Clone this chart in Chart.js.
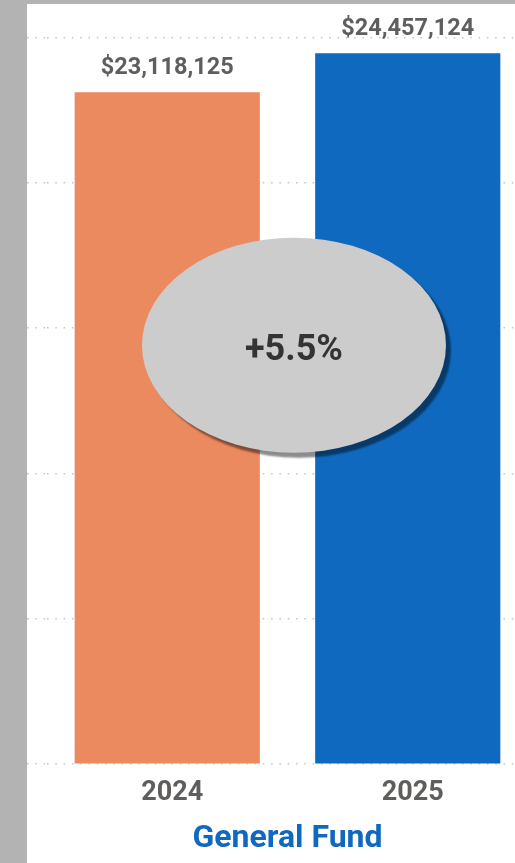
<!DOCTYPE html>
<html>
<head>
<meta charset="utf-8">
<script src="https://cdn.jsdelivr.net/npm/chart.js@4.4.1/dist/chart.umd.min.js"></script>
<style>
  html, body { margin: 0; padding: 0; width: 515px; height: 863px; overflow: hidden; background: #b3b3b3; }
  #panel { position: absolute; left: 27px; top: 4px; width: 488px; height: 859px; background: #ffffff; overflow: hidden; }
  #wrap { position: absolute; left: 0; top: 0; width: 501px; height: 859px; }
</style>
</head>
<body>
<div id="panel"><div id="wrap"><canvas id="chart"></canvas></div></div>
<script>
// chart data
const years = ["2024", "2025"];
const fundValues = [23118125, 24457124];
const barColors = ["#EB895F", "#0F6ABF"];
const changeLabel = "+5.5%";
const axisTitle = "General Fund";

const FONT = "Roboto, 'DejaVu Sans', sans-serif";
const labelGray = "#605E5C";
const dotColor = "#C4C4C4";
const dots = [1.5, 6.8];

// value labels above each bar
const valueLabels = {
  id: "valueLabels",
  afterDatasetsDraw(chart) {
    const ctx = chart.ctx;
    const meta = chart.getDatasetMeta(0);
    ctx.save();
    ctx.font = "bold 23.5px " + FONT;
    ctx.fillStyle = labelGray;
    ctx.textAlign = "center";
    ctx.textBaseline = "alphabetic";
    meta.data.forEach((bar, i) => {
      const txt = "$" + fundValues[i].toLocaleString("en-US");
      ctx.fillText(txt, bar.x, bar.y - 18);
    });
    ctx.restore();
  },
};

// grey bubble with the change between the two years
const changeBubble = {
  id: "changeBubble",
  afterDatasetsDraw(chart) {
    const { ctx, chartArea } = chart;
    const w = chartArea.right - chartArea.left;
    const h = chartArea.bottom - chartArea.top;
    const cx = chartArea.left + w * 0.5135;
    const cy = chartArea.top + h * 0.4234;
    const rx = w * 0.316;
    const ry = h * 0.148;
    ctx.save();
    ctx.shadowColor = "rgba(0, 0, 0, 0.45)";
    ctx.shadowBlur = 2;
    ctx.shadowOffsetX = 5;
    ctx.shadowOffsetY = 5;
    ctx.beginPath();
    ctx.ellipse(cx, cy, rx, ry, 0, 0, Math.PI * 2);
    ctx.fillStyle = "#CCCCCC";
    ctx.fill();
    ctx.restore();

    ctx.save();
    ctx.font = "bold 36px " + FONT;
    ctx.fillStyle = "#333333";
    ctx.textAlign = "center";
    ctx.textBaseline = "middle";
    ctx.fillText(changeLabel, cx, cy + 6);
    ctx.restore();
  },
};

new Chart(document.getElementById("chart"), {
  type: "bar",
  data: {
    labels: years,
    datasets: [
      {
        data: fundValues,
        backgroundColor: barColors,
        borderWidth: 0,
        categoryPercentage: 1,
        barPercentage: 0.77,
        clip: false,
      },
    ],
  },
  options: {
    responsive: true,
    maintainAspectRatio: false,
    animation: false,
    layout: { padding: { top: 33.5, bottom: 0, left: 0, right: 0 } },
    plugins: {
      legend: { display: false },
      tooltip: { enabled: false },
    },
    scales: {
      x: {
        grid: { display: false },
        border: { display: false },
        ticks: {
          color: labelGray,
          padding: 4.5,
          labelOffset: 5,
          font: { family: FONT, size: 27, weight: "bold" },
        },
        title: {
          display: true,
          text: axisTitle,
          color: "#1068C0",
          padding: { top: 6, bottom: 5 },
          font: { family: FONT, size: 32, weight: "bold" },
        },
      },
      y: {
        min: 0,
        max: 25000000,
        border: { display: false, dash: dots },
        ticks: { display: false, stepSize: 5000000 },
        grid: {
          color: dotColor,
          lineWidth: 1.5,
          drawTicks: true,
          tickLength: 20,
          tickColor: dotColor,
          tickWidth: 1.5,
          tickBorderDash: dots,
        },
      },
    },
  },
  plugins: [changeBubble, valueLabels],
});
</script>
</body>
</html>
